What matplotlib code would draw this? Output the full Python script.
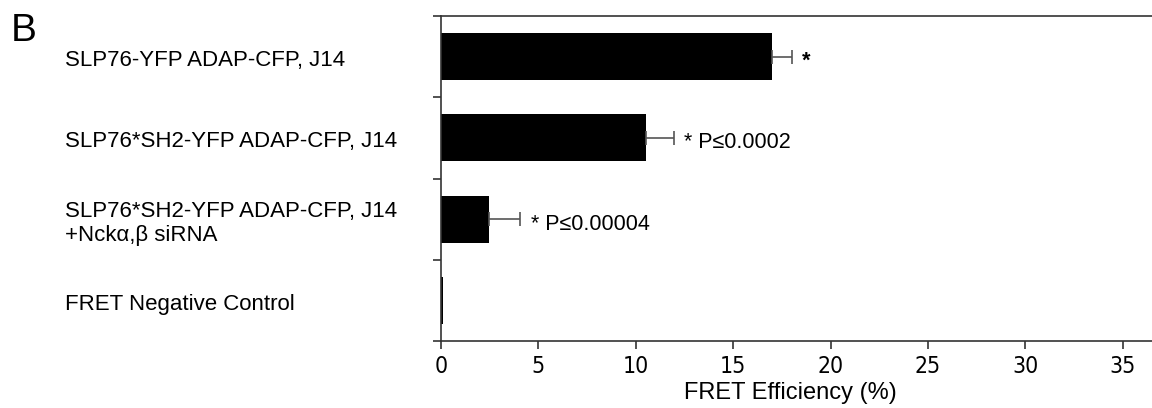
import numpy as np
import matplotlib.pyplot as plt
import matplotlib.transforms as mtransforms
from matplotlib import font_manager

labels = ['SLP76-YFP ADAP-CFP, J14',
          'SLP76*SH2-YFP ADAP-CFP, J14',
          'SLP76*SH2-YFP ADAP-CFP, J14\n+Nck\u03b1,\u03b2 siRNA',
          'FRET Negative Control']
values = [17.0, 10.5, 2.45, 0.12]
errors = [1.0, 1.45, 1.6, 0.0]
notes = ['*', '* P\u22640.0002', '* P\u22640.00004', '']

names = {f.name for f in font_manager.fontManager.ttflist}
if 'Liberation Sans Narrow' in names:
    narrow = dict(family='Liberation Sans Narrow')
else:
    narrow = dict(family='DejaVu Sans', stretch='condensed')

plt.rcParams['font.family'] = ['Liberation Sans', 'DejaVu Sans']

fig = plt.figure(figsize=(11.52, 4.08), dpi=100)
ax = fig.add_axes([0.3828, 0.1642, 0.6172, 0.7966])

y = np.arange(len(values))
ax.barh(y, values, height=0.58, color='black')
for yi, v, e, n in zip(y, values, errors, notes):
    if e > 0:
        ax.errorbar(v, yi, xerr=[[0], [e]], fmt='none', ecolor='#555555',
                    elinewidth=1.2, capsize=5, capthick=1.2)
    if n:
        ax.text(v + e + 0.55, yi + 0.06, n, fontsize=15.5, va='center',
                ha='left', fontweight='bold' if n == '*' else 'normal')

ax.set_xlim(0, 36.5)
ax.set_ylim(3.5, -0.5)
ax.set_xticks(np.arange(0, 40, 5))
ax.set_yticks([-0.5, 0.5, 1.5, 2.5, 3.5])
ax.set_yticklabels([])
ax.tick_params(axis='y', length=6, width=1.2, color='#333333')
ax.tick_params(axis='x', length=6, width=1.2, color='#333333',
               labelsize=16.5, pad=4)
for t in ax.get_xticklabels():
    t.set(**narrow)
ax.set_xlabel('FRET Efficiency (%)', fontsize=17)
ax.xaxis.set_label_coords(0.492, -0.125)
for s in ['left', 'bottom', 'top']:
    ax.spines[s].set_color('#333333')
    ax.spines[s].set_linewidth(1.2)
ax.spines['right'].set_visible(False)

trans = mtransforms.blended_transform_factory(fig.transFigure, ax.transData)
for yi, lab in zip(y, labels):
    ax.text(65 / 1152, yi + 0.05, lab, transform=trans, fontsize=16,
            va='center', ha='left', linespacing=1.2, clip_on=False)

fig.text(11 / 1152, 1 - 31 / 408, 'B', fontsize=28, va='center', ha='left')

fig.savefig('out.png', dpi=100)
